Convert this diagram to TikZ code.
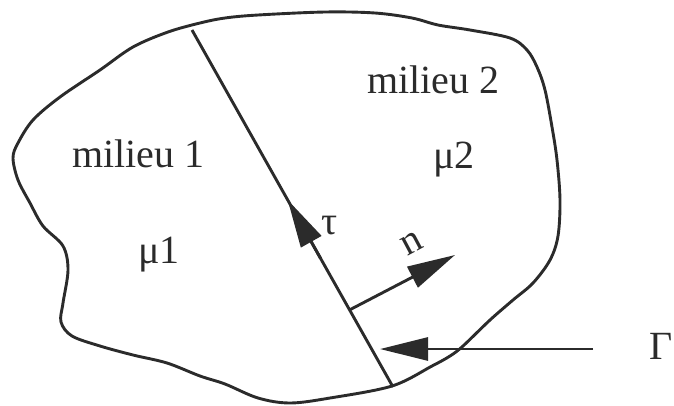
\documentclass[tikz,border=0pt]{standalone}
\usepackage{fontspec}
\setmainfont{Liberation Serif}
\usetikzlibrary{arrows.meta,calc}
\definecolor{ink}{HTML}{2B2B2B}
\begin{document}
\begin{tikzpicture}[x=1pt,y=-1pt,
  outline/.style={draw=ink,line width=2.9pt,line join=round},
  arr/.style={draw=ink,line width=2.9pt,-{Triangle[length=48pt,width=23pt]}},
  lbl/.style={text=ink,font=\fontsize{40}{40}\selectfont,inner sep=0pt}]
\useasboundingbox (0,0) rectangle (674,405);
% blob
\draw[outline] plot[smooth cycle,tension=0.55] coordinates {
 (168,32) (200,23) (225,18) (258,15) (325,12) (375,13) (412,18) (438,25)
 (470,30) (510,38) (527,50) (537,67) (545,90) (552,127) (557,160) (560,200)
 (558,236) (550,260) (533,283) (513,300) (490,320) (463,346) (450,356)
 (432,366) (392,386) (330,398) (290,403) (258,398) (225,384) (200,376)
 (167,363) (133,355) (100,346) (72,336) (61,322) (63,303) (68,270)
 (63,246) (43,226) (30,203) (18,180) (13,158) (18,143) (33,120) (60,97)
 (100,70) (133,47)};
% interface
\coordinate (gtop) at (192,30);
\coordinate (gbot) at (393,387);
\draw[outline] (gtop) -- (gbot);
% tau arrow
\coordinate (ttip) at ($(gtop)!0.476!(gbot)$);
\coordinate (tbase) at ($(gtop)!0.64!(gbot)$);
\draw[arr] (tbase) -- (ttip);
% n arrow
\coordinate (nbase) at ($(gtop)!0.784!(gbot)$);
\coordinate (ntip) at (455,255);
\draw[arr] (nbase) -- (ntip);
% Gamma arrow
\coordinate (gstart) at (593,349);
\coordinate (gtip) at (380,349);
\draw[arr] (gstart) -- (gtip);
% labels
\node[lbl,anchor=base west] (m1) at (72,167) {milieu 1};
\node[lbl,anchor=base west] (m2) at (367,93) {milieu 2};
\node[lbl,anchor=base west] (mu1) at (138,263) {μ1};
\node[lbl,anchor=base west] (mu2) at (433,168) {μ2};
\node[lbl] (tau) at (330,226) {τ};
\node[lbl,rotate=28] (nl) at (412,243) {n};
\node[lbl,anchor=base west] (gam) at (649,359) {Γ};
\end{tikzpicture}
\end{document}
